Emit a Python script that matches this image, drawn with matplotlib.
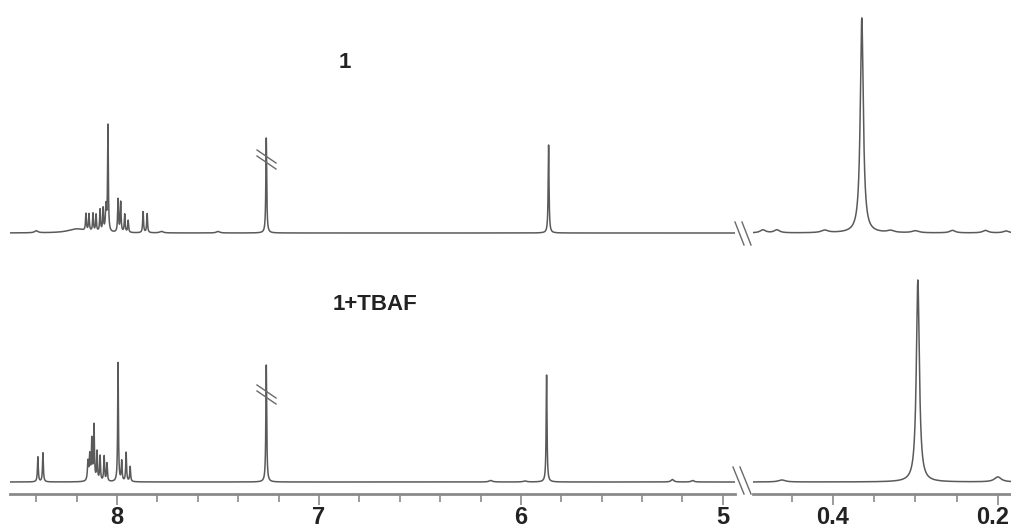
import numpy as np
import matplotlib
matplotlib.use("Agg")
import matplotlib.pyplot as plt
from matplotlib.lines import Line2D

# ---------------- data (peak positions in ppm, heights in px above baseline) ----------------
top_left_ppm = [8.40, 8.20, 8.154, 8.139, 8.119, 8.104, 8.084, 8.069, 8.055, 8.045,
                7.995, 7.982, 7.962, 7.945, 7.871, 7.851, 7.78, 7.50, 7.261, 5.863]
top_left_h = [2, 4, 17, 17, 18, 17, 22, 23, 25, 106,
              33, 30, 18, 12, 21, 19, 1.5, 1.5, 95, 88]
top_left_w = [0.01, 0.05, 0.0025, 0.0025, 0.0025, 0.0025, 0.0025, 0.0025, 0.003, 0.0022,
              0.0025, 0.0025, 0.0025, 0.0025, 0.0025, 0.0025, 0.01, 0.01, 0.0025, 0.0025]

bot_left_ppm = [8.392, 8.367, 8.144, 8.135, 8.125, 8.114, 8.099, 8.084, 8.064, 8.050,
                7.995, 7.977, 7.955, 7.935, 6.15, 5.98, 7.261, 5.873, 5.25, 5.15]
bot_left_h = [25, 29, 19, 25, 40, 55, 29, 25, 25, 18,
              119, 20, 29, 15, 1.5, 1.0, 117, 107, 2.5, 1.5]
bot_left_w = [0.0025, 0.0025, 0.003, 0.003, 0.0025, 0.0025, 0.0025, 0.0025, 0.0025, 0.0025,
              0.0022, 0.0025, 0.0025, 0.0025, 0.01, 0.01, 0.0025, 0.0025, 0.008, 0.008]

top_right_ppm = [0.485, 0.468, 0.41, 0.365, 0.33, 0.30, 0.255, 0.215, 0.19]
top_right_h = [3, 3, 2.5, 215, 2, 2, 2.5, 2.5, 2]
top_right_w = [0.004, 0.004, 0.005, 0.0022, 0.005, 0.005, 0.004, 0.004, 0.004]

bot_right_ppm = [0.462, 0.297, 0.20]
bot_right_h = [2, 202, 5]
bot_right_w = [0.005, 0.0022, 0.005]

left_ticks_major = [8, 7, 6, 5]
right_ticks_major = [0.4, 0.2]
right_tick_labels = ["0.4", "0.2"]

label_top = "1"
label_bottom = "1+TBAF"

# ---------------- layout ----------------
W, H = 1011, 530
fig = plt.figure(figsize=(W / 100, H / 100), dpi=100)
axis_y = 494
ybot = (H - axis_y) / H
base_top = axis_y - 233
base_bot = axis_y - 482

axL = fig.add_axes([10 / W, ybot, (735 - 10) / W, 1 - ybot])
axR = fig.add_axes([753 / W, ybot, (W - 753) / W, 1 - ybot])

def spectrum(x, ppm, h, w, base):
    y = np.full_like(x, base, dtype=float)
    for p, a, g in zip(ppm, h, w):
        y += a * g**2 / ((x - p) ** 2 + g**2)
    return y

lc = "#5a5a5a"
xl = np.linspace(8.53, 4.94, 30000)
axL.plot(xl, spectrum(xl, top_left_ppm, top_left_h, top_left_w, base_top), color=lc, lw=1.1)
axL.plot(xl, spectrum(xl, bot_left_ppm, bot_left_h, bot_left_w, base_bot), color=lc, lw=1.1)
xr = np.linspace(0.497, 0.184, 20000)
axR.plot(xr, spectrum(xr, top_right_ppm, top_right_h, top_right_w, base_top), color=lc, lw=1.1)
axR.plot(xr, spectrum(xr, bot_right_ppm, bot_right_h, bot_right_w, base_bot), color=lc, lw=1.1)

axL.set_xlim(8.53, 4.94)
axR.set_xlim(0.497, 0.184)
tick_font = dict(fontweight="bold", family="Liberation Sans")
for ax in (axL, axR):
    ax.set_ylim(0, axis_y)
    ax.patch.set_alpha(0)
    for s in ("top", "left", "right"):
        ax.spines[s].set_visible(False)
    ax.spines["bottom"].set_color("#8a8a8a")
    ax.spines["bottom"].set_linewidth(2)
    ax.set_yticks([])
    ax.tick_params(axis="x", which="major", length=8, width=1.2, color="#8a8a8a", pad=1,
                   labelsize=17, labelcolor="#222222")
    ax.tick_params(axis="x", which="minor", length=6, width=1.2, color="#8a8a8a")

axL.set_xticks(left_ticks_major)
axL.set_xticklabels([str(t) for t in left_ticks_major], **tick_font)
axL.set_xticks([8.4, 8.2, 7.8, 7.6, 7.4, 7.2, 6.8, 6.6, 6.4, 6.2, 5.8, 5.6, 5.4, 5.2], minor=True)
axR.set_xticks(right_ticks_major)
# last label sits at the figure's right edge: draw it right-aligned so it stays inside
axR.set_xticklabels([right_tick_labels[0], ""], **tick_font)
axR.set_xticks([0.45, 0.35, 0.3, 0.25], minor=True)
fig.text(1009 / W, 1 - 506 / H, right_tick_labels[1], ha="right", va="top",
         fontsize=17, color="#222222", **tick_font)

# ---------------- break marks (figure pixel coords, y from top) ----------------
def fline(x0, y0, x1, y1, lw=1.0, c="#6a6a6a"):
    fig.add_artist(Line2D([x0 / W, x1 / W], [1 - y0 / H, 1 - y1 / H], color=c, lw=lw))

# axis / baseline breaks
for dx in (0, 7):
    fline(735 + dx, 222, 744 + dx, 245)
    fline(733 + dx, 467, 744 + dx, 494)
# solvent peak truncation marks
for dy in (0, 6):
    fline(257, 150 + dy, 276, 163 + dy)
    fline(257, 385 + dy, 276, 398 + dy)

fig.text(345 / W, 1 - 62 / H, label_top, ha="center", va="center", fontsize=16,
         fontweight="bold", family="Liberation Sans", color="#222222")
fig.text(375 / W, 1 - 305 / H, label_bottom, ha="center", va="center", fontsize=16,
         fontweight="bold", family="Liberation Sans", color="#222222")

fig.savefig("out.png", dpi=100, facecolor="white")
